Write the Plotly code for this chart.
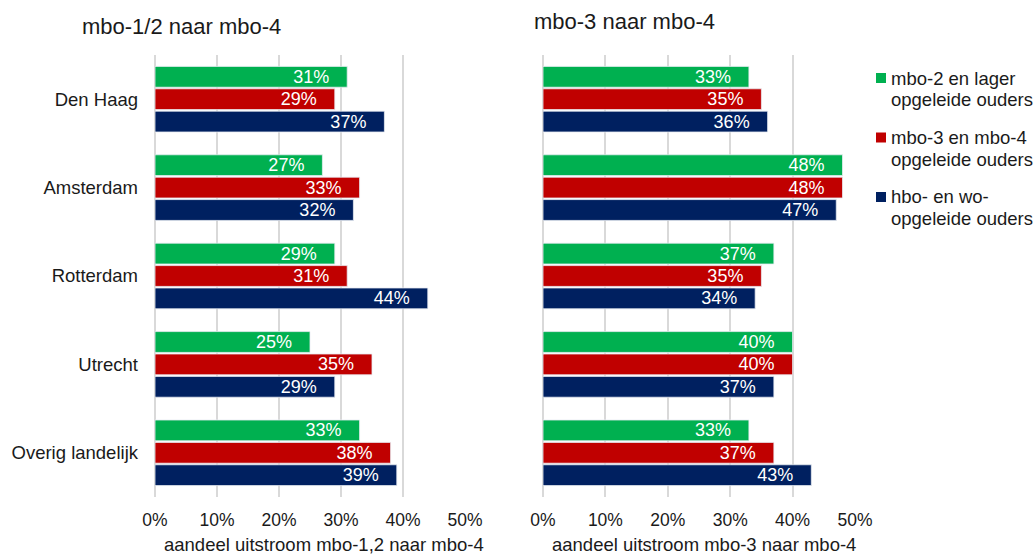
import plotly.graph_objects as go

# Regions (top to bottom) and parent-education groups
regions = ["Den Haag", "Amsterdam", "Rotterdam", "Utrecht", "Overig landelijk"]
groups = ["mbo-2 en lager<br>opgeleide ouders",
          "mbo-3 en mbo-4<br>opgeleide ouders",
          "hbo- en wo-<br>opgeleide ouders"]
colors = ["#00B050", "#C00000", "#002060"]

# Share of outflow mbo-1/2 -> mbo-4, per group
left_low = [0.31, 0.27, 0.29, 0.25, 0.33]
left_mid = [0.29, 0.33, 0.31, 0.35, 0.38]
left_high = [0.37, 0.32, 0.44, 0.29, 0.39]

# Share of outflow mbo-3 -> mbo-4, per group
right_low = [0.33, 0.48, 0.37, 0.40, 0.33]
right_mid = [0.35, 0.48, 0.35, 0.40, 0.37]
right_high = [0.36, 0.47, 0.34, 0.37, 0.43]

x_ticks = [0, 0.1, 0.2, 0.3, 0.4, 0.5]
x_tick_text = ["0%", "10%", "20%", "30%", "40%", "50%"]

titles = ["mbo-1/2 naar mbo-4", "mbo-3 naar mbo-4"]
x_titles = ["aandeel uitstroom mbo-1,2 naar mbo-4", "aandeel uitstroom mbo-3 naar mbo-4"]

FONT = "Liberation Sans, Arial, sans-serif"
W, H = 1035, 555
PAD = "\u00a0\u00a0\u00a0"  # keeps value labels a little away from the bar end

fig = go.Figure()

panels = [
    ("x", "y", [left_low, left_mid, left_high]),
    ("x2", "y2", [right_low, right_mid, right_high]),
]
for xa, ya, series in panels:
    for vals, name, col in zip(series, groups, colors):
        fig.add_trace(go.Bar(
            y=regions, x=vals, orientation="h", name=name,
            xaxis=xa, yaxis=ya, showlegend=False,
            marker=dict(color=col, line=dict(color="#e8ecf2", width=0.8)),
            text=[f"{round(v * 100)}%{PAD}" for v in vals],
            textposition="inside", insidetextanchor="end", constraintext="none",
            textfont=dict(color="white", size=18, family=FONT),
            cliponaxis=False,
        ))


def px_x(p):
    return p / W


def px_y(p):
    return 1 - p / H


ydom = [px_y(497), px_y(55)]
xaxis_common = dict(
    range=[0, 0.5], tickvals=x_ticks, ticktext=x_tick_text,
    showgrid=True, gridcolor="#d9d9d9", gridwidth=2,
    zeroline=True, zerolinecolor="#d9d9d9", zerolinewidth=2,
    showline=False, ticks="", ticklabelstandoff=10, automargin=False,
    tickfont=dict(size=17.5, color="#1a1a1a", family=FONT),
    fixedrange=True,
)
yaxis_common = dict(
    autorange="reversed", showgrid=False, zeroline=False, showline=False,
    ticks="", domain=ydom, automargin=False,
)

fig.update_layout(
    width=W, height=H,
    margin=dict(l=0, r=0, t=0, b=0, autoexpand=False),
    paper_bgcolor="white", plot_bgcolor="white",
    barmode="group", bargap=0.24, bargroupgap=0.07,
    font=dict(family=FONT, color="#1a1a1a"),
    xaxis=dict(domain=[px_x(155), px_x(465)], anchor="y", **xaxis_common),
    xaxis2=dict(domain=[px_x(543), px_x(855)], anchor="y2", **xaxis_common),
    yaxis=dict(anchor="x", ticklabelstandoff=16,
               tickfont=dict(size=18.5, color="#1a1a1a", family=FONT),
               **yaxis_common),
    yaxis2=dict(anchor="x2", showticklabels=False, **yaxis_common),
    showlegend=False,
)

annotations = []
# Panel titles
annotations.append(dict(text=titles[0], x=px_x(80), y=px_y(27), xref="paper", yref="paper",
                        xanchor="left", yanchor="middle", showarrow=False,
                        font=dict(size=22, color="#1a1a1a", family=FONT)))
annotations.append(dict(text=titles[1], x=px_x(532), y=px_y(21), xref="paper", yref="paper",
                        xanchor="left", yanchor="middle", showarrow=False,
                        font=dict(size=22, color="#1a1a1a", family=FONT)))
# Axis titles
for t, cx in zip(x_titles, [324, 704]):
    annotations.append(dict(text=t, x=px_x(cx), y=px_y(544), xref="paper", yref="paper",
                            xanchor="center", yanchor="middle", showarrow=False,
                            font=dict(size=18.5, color="#1a1a1a", family=FONT)))

# Legend: coloured squares with two-line labels
shapes = []
for i, (name, col) in enumerate(zip(groups, colors)):
    cy = 78 + i * 59.5
    shapes.append(dict(type="rect", xref="paper", yref="paper",
                       x0=px_x(876), x1=px_x(886), y0=px_y(cy + 5), y1=px_y(cy - 5),
                       fillcolor=col, line=dict(width=0)))
    for j, line in enumerate(name.split("<br>")):
        annotations.append(dict(text=line, x=px_x(889), y=px_y(cy + 22 * j),
                                xref="paper", yref="paper",
                                xanchor="left", yanchor="middle", align="left",
                                showarrow=False,
                                font=dict(size=18.5, color="#1a1a1a", family=FONT)))

fig.update_layout(annotations=annotations, shapes=shapes)

fig.write_html("out.html")
